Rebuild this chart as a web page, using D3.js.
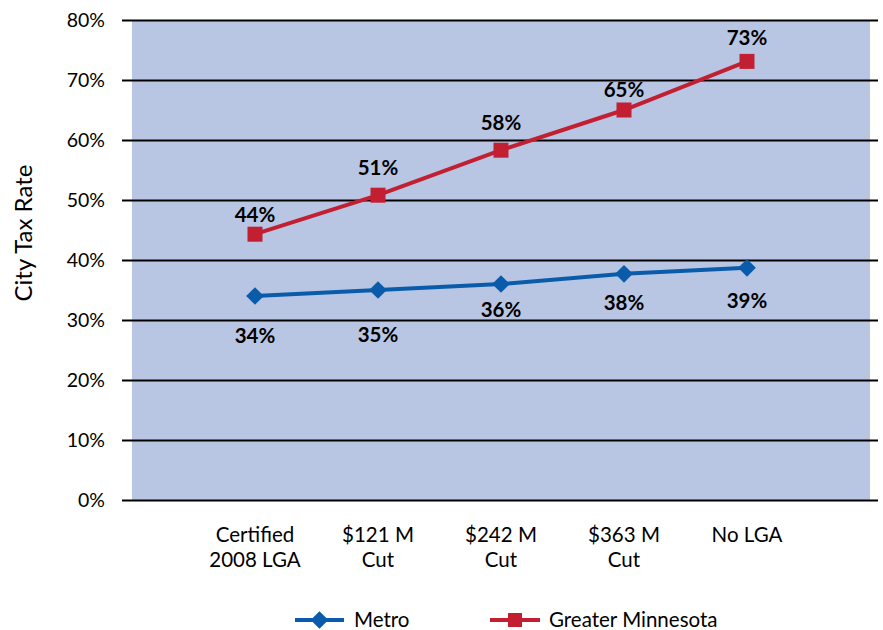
<!DOCTYPE html>
<html>
<head>
<meta charset="utf-8">
<script src="https://cdn.jsdelivr.net/npm/d3@7"></script>
<style>
	body { margin: 0; background: #fff; }
	svg text { font-family: Lato, "Open Sans", sans-serif; }
</style>
</head>
<body>
<svg width="883" height="630"></svg>
<script>

// categories along the x axis (each label split on two lines)
const categories = [
	['Certified', '2008 LGA'],
	['$121 M', 'Cut'],
	['$242 M', 'Cut'],
	['$363 M', 'Cut'],
	['No LGA']
];

const metro = [34.0, 35.0, 36.0, 37.7, 38.7];
const greaterMN = [44.3, 50.8, 58.3, 65.0, 73.1];

const yTicks = [0, 10, 20, 30, 40, 50, 60, 70, 80];

// manual label nudges, as in the original
const metroLabelDy = [40, 45, 26, 29, 33];
const greaterLabelDy = [-19, -27, -27, -20, -23];

const PLOT = { left: 132, right: 870, top: 20, bottom: 500 };
const BLUE = '#0a5cab';
const RED = '#c21f32';
const FONT = 20.5;

const svg = d3.select('svg');

// one empty slot on each side of the categories
const slots = d3.range(categories.length + 2);
const x = d3.scalePoint()
	.domain(slots)
	.range([PLOT.left, PLOT.right]);
const xCat = i => x(i + 1);

const y = d3.scaleLinear()
	.domain([0, 80])
	.range([PLOT.bottom, PLOT.top]);

svg.append('rect')
	.attr('x', PLOT.left)
	.attr('y', y(80))
	.attr('width', PLOT.right - PLOT.left)
	.attr('height', y(0) - y(80))
	.attr('fill', '#b8c6e4');

// gridlines + tick labels
const yAxis = d3.axisLeft(y)
	.tickValues(yTicks)
	.tickSize(0)
	.tickFormat(d => d + '%');

const gy = svg.append('g')
	.attr('transform', 'translate(' + (PLOT.right + 8) + ',0)')
	.call(yAxis);
gy.select('.domain').remove();
gy.selectAll('.tick line')
	.attr('x1', -(PLOT.right + 8 - 122))
	.attr('x2', 0)
	.attr('stroke', '#000')
	.attr('stroke-width', 2);
gy.selectAll('.tick text')
	.attr('x', -(PLOT.right + 8 - 105))
	.attr('text-anchor', 'end')
	.attr('font-size', 19.5)
	.attr('fill', '#000');

// x labels
const gx = svg.append('g');
categories.forEach((lines, i) => {
	const t = gx.append('text')
		.attr('x', xCat(i))
		.attr('y', 542)
		.attr('text-anchor', 'middle')
		.attr('font-size', FONT)
		.attr('fill', '#000');
	lines.forEach((line, j) => {
		t.append('tspan')
			.attr('x', xCat(i))
			.attr('dy', j === 0 ? 0 : 25)
			.text(line);
	});
});

// y title
svg.append('text')
	.attr('transform', 'translate(32,233) rotate(-90)')
	.attr('text-anchor', 'middle')
	.attr('font-size', 24)
	.attr('fill', '#000')
	.text('City Tax Rate');

const line = d3.line()
	.x((d, i) => xCat(i))
	.y(d => y(d));

const diamond = d3.symbol().type(d3.symbolDiamond2).size(200);

// Greater Minnesota
svg.append('path')
	.datum(greaterMN)
	.attr('d', line)
	.attr('fill', 'none')
	.attr('stroke', RED)
	.attr('stroke-width', 4);
svg.selectAll('.gm')
	.data(greaterMN)
	.enter()
	.append('rect')
	.attr('class', 'gm')
	.attr('x', (d, i) => xCat(i) - 7.5)
	.attr('y', d => y(d) - 7.5)
	.attr('width', 15)
	.attr('height', 15)
	.attr('fill', RED);
svg.selectAll('.gmLabel')
	.data(greaterMN)
	.enter()
	.append('text')
	.attr('class', 'gmLabel')
	.attr('x', (d, i) => xCat(i))
	.attr('y', (d, i) => y(d) + greaterLabelDy[i] + 7)
	.attr('text-anchor', 'middle')
	.attr('font-size', FONT)
	.attr('font-weight', 'bold')
	.attr('fill', '#000')
	.text(d => Math.round(d) + '%');

// Metro
svg.append('path')
	.datum(metro)
	.attr('d', line)
	.attr('fill', 'none')
	.attr('stroke', BLUE)
	.attr('stroke-width', 4);
svg.selectAll('.metro')
	.data(metro)
	.enter()
	.append('path')
	.attr('class', 'metro')
	.attr('transform', (d, i) => 'translate(' + xCat(i) + ',' + y(d) + ')')
	.attr('d', diamond)
	.attr('fill', BLUE);
svg.selectAll('.metroLabel')
	.data(metro)
	.enter()
	.append('text')
	.attr('class', 'metroLabel')
	.attr('x', (d, i) => xCat(i))
	.attr('y', (d, i) => y(d) + metroLabelDy[i] + 7)
	.attr('text-anchor', 'middle')
	.attr('font-size', FONT)
	.attr('font-weight', 'bold')
	.attr('fill', '#000')
	.text(d => Math.round(d) + '%');

// legend
const legend = svg.append('g').attr('transform', 'translate(0,620)');
legend.append('line')
	.attr('x1', 295).attr('x2', 344)
	.attr('stroke', BLUE).attr('stroke-width', 4);
legend.append('path')
	.attr('transform', 'translate(319.5,0)')
	.attr('d', diamond)
	.attr('fill', BLUE);
legend.append('text')
	.attr('x', 354).attr('y', 7)
	.attr('font-size', FONT)
	.text('Metro');
legend.append('line')
	.attr('x1', 490).attr('x2', 540)
	.attr('stroke', RED).attr('stroke-width', 4);
legend.append('rect')
	.attr('x', 508).attr('y', -7)
	.attr('width', 14).attr('height', 14)
	.attr('fill', RED);
legend.append('text')
	.attr('x', 549).attr('y', 7)
	.attr('font-size', FONT)
	.text('Greater Minnesota');

</script>
</body>
</html>
